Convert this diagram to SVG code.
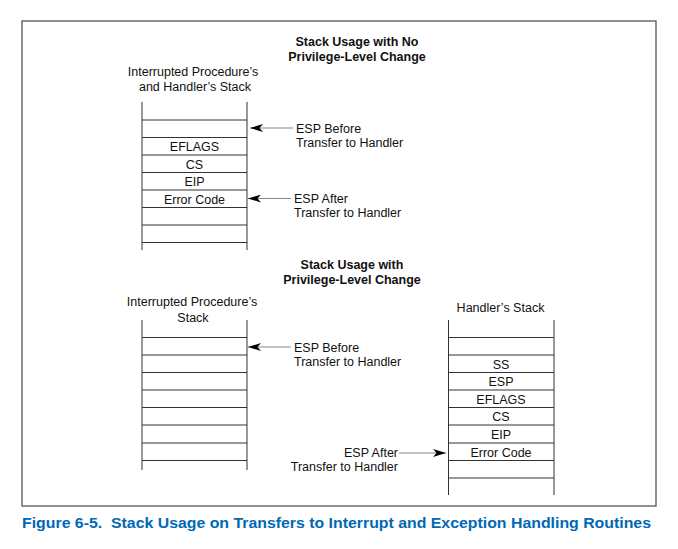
<svg xmlns="http://www.w3.org/2000/svg" width="678" height="549" viewBox="0 0 678 549">
<style>
.t{font-family:"Liberation Sans",Arial,sans-serif;font-size:12.5px;fill:#111}
.b{font-family:"Liberation Sans",Arial,sans-serif;font-size:12.5px;font-weight:bold;fill:#111}
.c{text-anchor:middle}
.e{text-anchor:end}
.s{stroke:#333;stroke-width:1;fill:none}
.a{stroke:#888;stroke-width:1.2;fill:none;marker-end:url(#ah)}
.cap{font-family:"Liberation Sans",Arial,sans-serif;font-size:15px;font-weight:bold;fill:#0068b5;white-space:pre}
</style>
<defs>
<marker id="ah" viewBox="0 -4 13 8" refX="13" refY="0" markerWidth="13" markerHeight="8" markerUnits="userSpaceOnUse" orient="auto">
<path d="M13,0 L0,-4 L3.5,0 L0,4 Z" fill="#000"/>
</marker>
</defs>
<rect x="22" y="21" width="634" height="485" fill="#fff" stroke="#555" stroke-width="1.3"/>

<g id="title-top">
<text class="b c" x="357" y="46">Stack Usage with No</text>
<text class="b c" x="357" y="61">Privilege-Level Change</text>
</g>
<g id="stack-top">
<text class="t c" x="193" y="76">Interrupted Procedure’s</text>
<text class="t c" x="195" y="91">and Handler’s Stack</text>
<path class="s" d="M142,102V250M247,102V250M142,120H247M142,137.5H247M142,155H247M142,172.5H247M142,190H247M142,207.5H247M142,225H247M142,242.5H247"/>
<text class="t c" x="194.5" y="151">EFLAGS</text>
<text class="t c" x="194.5" y="168.5">CS</text>
<text class="t c" x="194.5" y="186">EIP</text>
<text class="t c" x="194.5" y="203.5">Error Code</text>
</g>
<g id="label-top-before">
<text class="t" x="296" y="133">ESP Before</text>
<text class="t" x="296" y="147">Transfer to Handler</text>
</g>
<g id="label-top-after">
<text class="t" x="294" y="203">ESP After</text>
<text class="t" x="294" y="217">Transfer to Handler</text>
</g>

<g id="title-bottom">
<text class="b c" x="352" y="269">Stack Usage with</text>
<text class="b c" x="352" y="284">Privilege-Level Change</text>
</g>
<g id="stack-interrupted">
<text class="t c" x="192" y="306">Interrupted Procedure’s</text>
<text class="t c" x="193" y="322">Stack</text>
<path class="s" d="M142,320V470M247,320V470M142,337.5H247M142,355H247M142,372.5H247M142,390H247M142,407.5H247M142,425H247M142,443H247M142,460.5H247"/>
</g>
<g id="label-bottom-before">
<text class="t" x="294" y="352">ESP Before</text>
<text class="t" x="294" y="366">Transfer to Handler</text>
</g>
<g id="stack-handler">
<text class="t c" x="500.5" y="312">Handler’s Stack</text>
<path class="s" d="M448.5,320V495M554,320V495M448.5,337.5H554M448.5,355H554M448.5,372.5H554M448.5,390H554M448.5,407.5H554M448.5,425H554M448.5,443H554M448.5,460.5H554M448.5,478H554"/>
<text class="t c" x="501" y="368.5">SS</text>
<text class="t c" x="501" y="386">ESP</text>
<text class="t c" x="501" y="403.5">EFLAGS</text>
<text class="t c" x="501" y="421">CS</text>
<text class="t c" x="501" y="438.5">EIP</text>
<text class="t c" x="501" y="456.5">Error Code</text>
</g>
<g id="label-bottom-after">
<text class="t e" x="398" y="457">ESP After</text>
<text class="t e" x="398" y="471">Transfer to Handler</text>
</g>

<g id="connectors">
<line class="a" x1="293" y1="128" x2="250" y2="128"/>
<line class="a" x1="291" y1="198.5" x2="248" y2="198.5"/>
<line class="a" x1="291" y1="347" x2="248" y2="347"/>
<line class="a" x1="399" y1="453" x2="446" y2="453"/>
</g>

<text class="cap" x="22" y="528" textLength="629" lengthAdjust="spacingAndGlyphs" xml:space="preserve">Figure 6-5.  Stack Usage on Transfers to Interrupt and Exception Handling Routines</text>
</svg>
